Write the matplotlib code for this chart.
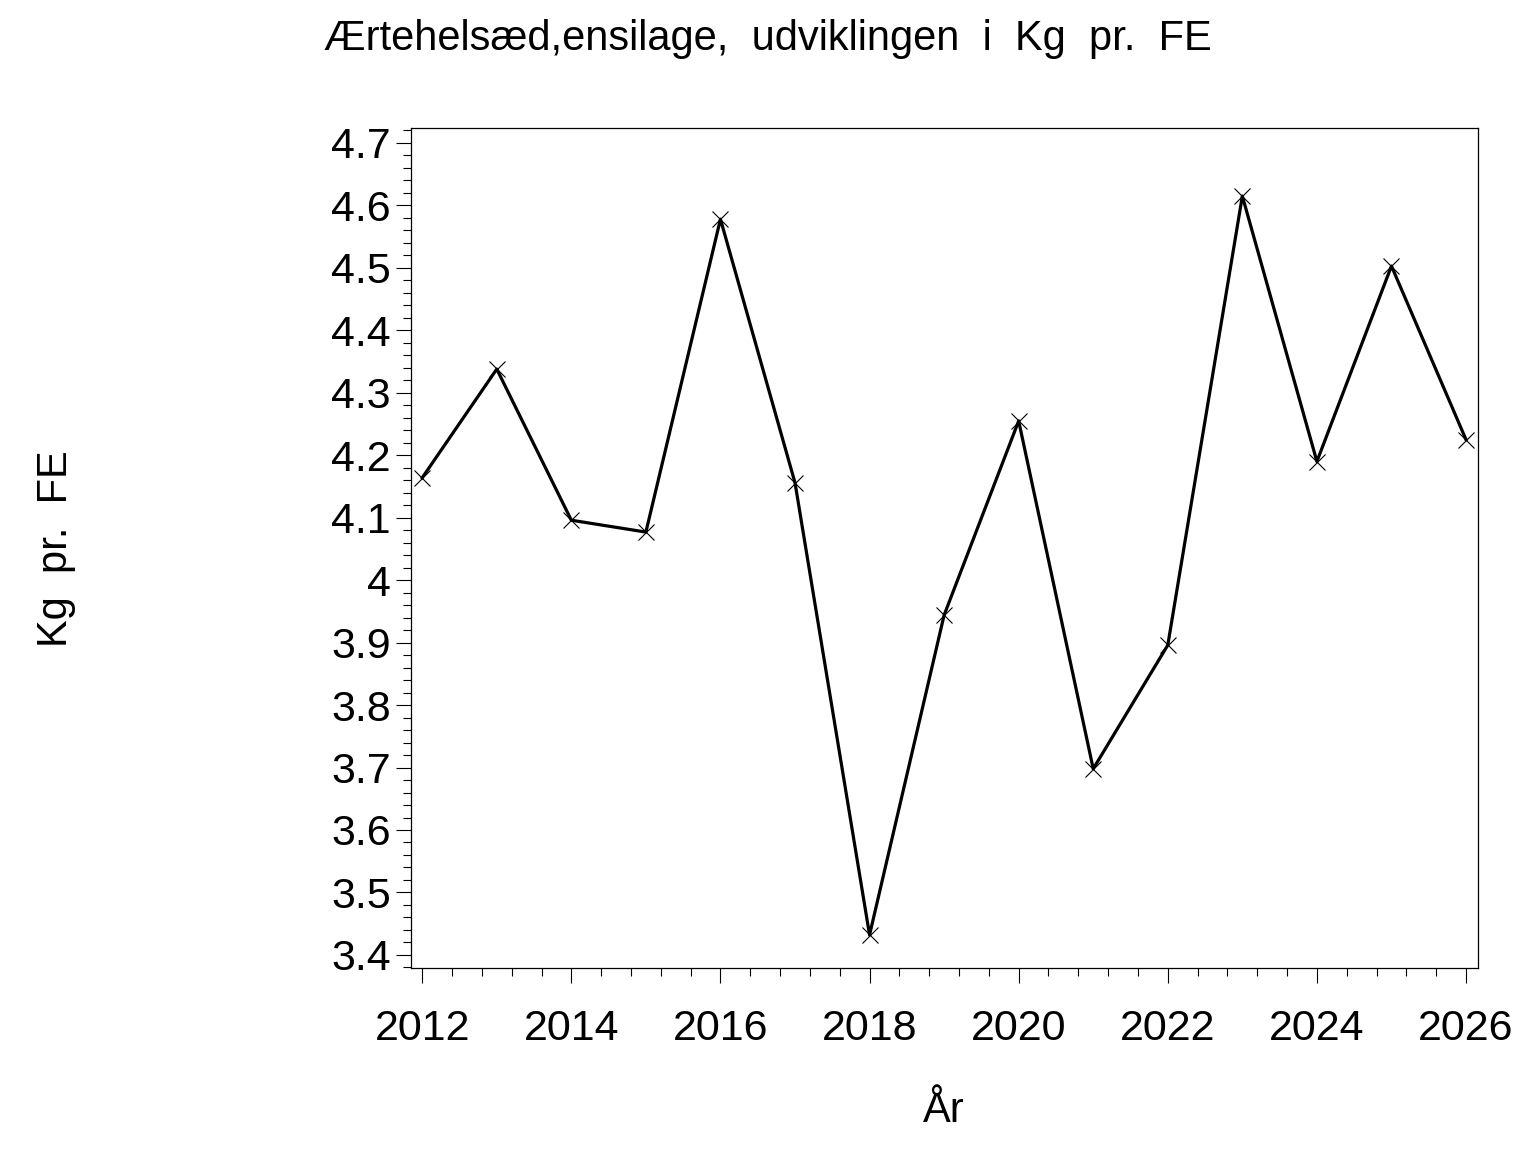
import matplotlib
matplotlib.use("Agg")
import matplotlib.pyplot as plt
from matplotlib.ticker import MultipleLocator

plt.rcParams["font.family"] = ["Liberation Sans", "DejaVu Sans"]

years = [2012, 2013, 2014, 2015, 2016, 2017, 2018, 2019,
         2020, 2021, 2022, 2023, 2024, 2025, 2026]
kg_pr_fe = [4.164, 4.338, 4.096, 4.077, 4.578, 4.156, 3.432, 3.944,
            4.255, 3.698, 3.896, 4.615, 4.190, 4.503, 4.225]
y_ticks = [3.4, 3.5, 3.6, 3.7, 3.8, 3.9, 4.0, 4.1, 4.2, 4.3, 4.4, 4.5, 4.6, 4.7]
y_tick_labels = ["3.4", "3.5", "3.6", "3.7", "3.8", "3.9", "4",
                 "4.1", "4.2", "4.3", "4.4", "4.5", "4.6", "4.7"]
x_ticks = [2012, 2014, 2016, 2018, 2020, 2022, 2024, 2026]

fig = plt.figure(figsize=(15.36, 11.52), dpi=100)
ax = fig.add_axes([0.2676, 0.1597, 0.9622 - 0.2676, 0.8889 - 0.1597])

ax.plot(years, kg_pr_fe, color="black", linewidth=2.3,
        marker="x", markersize=11.5, markeredgewidth=0.8)

ax.set_xlim(2011.85, 2026.16)
ax.set_ylim(3.379, 4.724)
ax.set_xticks(x_ticks)
ax.set_xticklabels([str(x) for x in x_ticks])
ax.set_yticks(y_ticks)
ax.set_yticklabels(y_tick_labels)
ax.xaxis.set_minor_locator(MultipleLocator(0.4))
ax.yaxis.set_minor_locator(MultipleLocator(0.02))

ax.tick_params(axis="both", which="major", direction="out", length=10.5,
               width=0.8, labelsize=31, color="black")
ax.tick_params(axis="both", which="minor", direction="out", length=5.5,
               width=0.8, color="black")
ax.tick_params(axis="x", which="major", pad=19)
ax.tick_params(axis="y", which="major", pad=4)
for sp in ax.spines.values():
    sp.set_linewidth(0.9)
    sp.set_color("black")

fig.text(0.5, 0.966, "Ærtehelsæd,ensilage,  udviklingen  i  Kg  pr.  FE",
         ha="center", va="center", fontsize=30)
fig.text(0.0365, 0.524, "Kg  pr.  FE", rotation=90, ha="center", va="center",
         fontsize=30)
fig.text(0.6146, 0.036, "År", ha="center", va="center", fontsize=30)

fig.savefig("out.png", dpi=100)
